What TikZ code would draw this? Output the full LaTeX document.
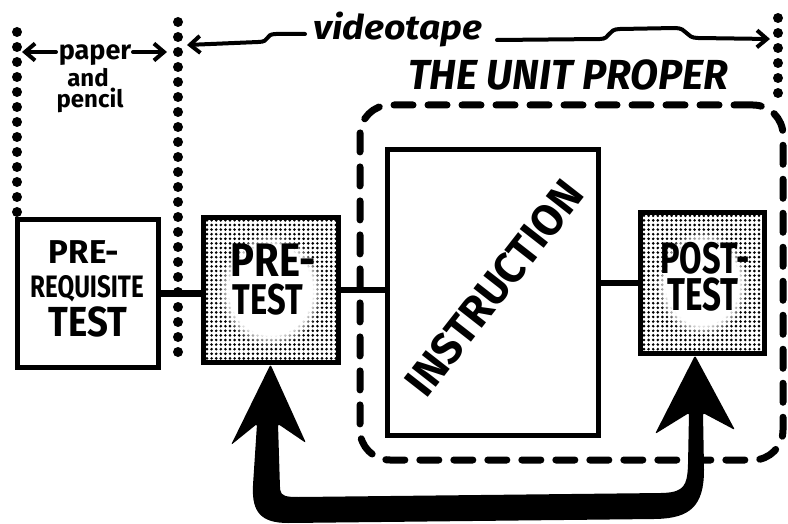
\documentclass[tikz,border=0pt]{standalone}
\usepackage{fontspec}
\setmainfont{Fira Sans}
\usetikzlibrary{arrows.meta,patterns.meta,fadings}
\newcommand{\fs}[1]{\fontsize{#1}{#1}\selectfont}
\begin{document}
\begin{tikzpicture}[x=1pt,y=-1pt,
  box/.style={draw, line width=5pt, inner sep=0pt},
  shaded/.style={box, pattern={Dots[radius=1.45pt,distance=4.6pt]}},
  dotline/.style={line width=10pt, line cap=round, dash pattern=on 0pt off 15pt},
  conn/.style={line width=6.5pt},
  lbl/.style={inner sep=0pt, font=\bfseries},
  hand/.style={line width=4pt, line cap=round, -{Straight Barb[length=10pt,width=17pt,line width=4pt]}},
]
\useasboundingbox (0,0) rectangle (788,524);

% dotted separators
\draw[dotline] (17,32) -- (17,212);
\draw[dotline] (178,22) -- (178,358);
\draw[dotline] (778,18) -- (778,100);

% unit proper dashed box
\node[draw, line width=7pt, dash pattern=on 19pt off 15pt, line cap=round,
      rounded corners=30pt, minimum width=423pt, minimum height=355pt] (unit) at (571.5,282.5) {};

% boxes
\node[box, minimum width=141pt, minimum height=147pt] (prereq) at (87.5,293.5) {};
\node[shaded, minimum width=135pt, minimum height=144pt] (pretest) at (270.5,290) {};
\node[box, fill=white, minimum width=211pt, minimum height=285pt] (instr) at (492.5,292.5) {};
\node[shaded, minimum width=124pt, minimum height=140pt] (posttest) at (702,283) {};

\fill[white, path fading=circle with fuzzy edge 20 percent] (pretest.center) ellipse (52pt and 56pt);
\fill[white, path fading=circle with fuzzy edge 20 percent] (posttest.center) ellipse (46pt and 52pt);

% box texts
\node[lbl, font=\bfseries\fs{33}] (t1) at (84,252) {PRE-};
\node[lbl, font=\bfseries\fs{31}] (t2) at (87,289) {\scalebox{0.78}[1]{REQUISITE}};
\node[lbl, font=\bfseries\fs{42}] (t3) at (88,322) {\scalebox{0.87}[1]{TEST}};

\node[lbl, font=\bfseries\fs{47}] (t4) at (273,260) {\scalebox{0.85}[1]{PRE-}};
\node[lbl, font=\bfseries\fs{43}] (t5) at (268,300) {\scalebox{0.76}[1]{TEST}};

\node[lbl, font=\bfseries\fs{44}] (t6) at (705,258) {\scalebox{0.74}[1]{POST-}};
\node[lbl, font=\bfseries\fs{46}] (t7) at (703,295) {\scalebox{0.72}[1]{TEST}};

\node[lbl, font=\bfseries\fs{44}, rotate=52] (t8) at (494,288) {\scalebox{0.97}[1]{INSTRUCTION}};

% connectors
\draw[conn] (prereq.east) -- (prereq.east -| pretest.west);
\draw[conn] (pretest.east) -- (pretest.east -| instr.west);
\draw[conn] (instr.east |- posttest.west) -- (posttest.west);

% headings
\node[lbl, font=\bfseries\itshape\fs{42}] (unitlbl) at (568,75) {\scalebox{0.97}[1]{THE UNIT PROPER}};
\node[lbl, font=\bfseries\itshape\fs{34}, anchor=base] (vt) at (398,40) {\scalebox{1.1}[1]{videotape}};
\node[lbl, font=\bfseries\fs{27}, anchor=base] (pp) at (95,60) {paper};
\node[lbl, font=\bfseries\fs{24}, anchor=base] (an) at (88,87) {and};
\node[lbl, font=\bfseries\fs{24}, anchor=base] (pc) at (90,108) {pencil};

% scope arrows
\coordinate (ppL) at (22,52);
\coordinate (ppR) at (167,52);
\coordinate (vtL) at (187,45);
\coordinate (vtR) at (770,39);
\draw[hand] (56,52) -- (ppL);
\draw[hand] (133,52) -- (ppR);
\draw[hand] (305,34) -- (276,34) .. controls (264,34) and (271,42) .. (258,42) -- (vtL);
\draw[hand] (497,40) -- (600,39) .. controls (611,39) and (607,29) .. (620,29) -- (675,28)
  .. controls (688,28) and (685,38) .. (698,38) -- (vtR);

% big U-shaped feedback arrow
\coordinate (tipL) at (pretest.south);
\coordinate (tipR) at ([xshift=-7pt]posttest.south);
\fill[rounded corners=2pt] (tipL) -- (306,443) -- (278,424) -- (280,488)
  .. controls (281,496) and (286,497) .. (300,497) -- (662,493)
  .. controls (684,492) and (687,485) .. (688,465) -- (689,413) -- (655,434)
  -- (tipR) -- (735,430) -- (703,413) -- (704,468)
  .. controls (704,506) and (690,518) .. (655,519) -- (290,523)
  .. controls (261,523) and (252,512) .. (253,485) -- (257,424) -- (231,445) -- cycle;
\end{tikzpicture}
\end{document}
